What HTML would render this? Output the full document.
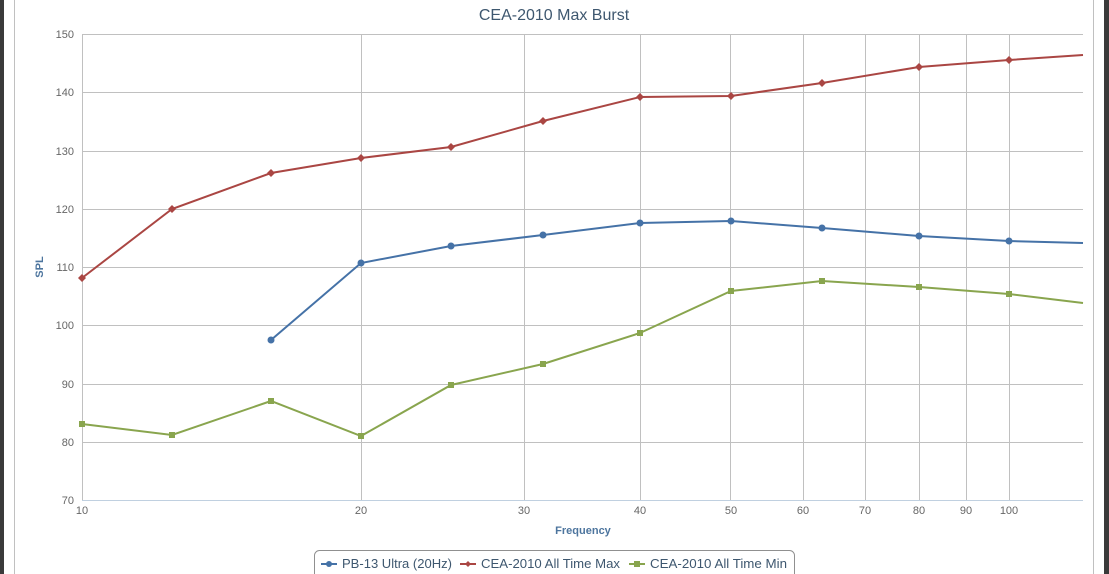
<!DOCTYPE html>
<html><head><meta charset="utf-8"><style>
html,body{margin:0;padding:0;background:#fff;}
svg{display:block;font-family:"Liberation Sans",sans-serif;}
</style></head><body>
<svg width="1109" height="574" viewBox="0 0 1109 574">
<rect x="0" y="0" width="4" height="574" fill="#3a3a3a"/>
<rect x="1104" y="0" width="5" height="574" fill="#3a3a3a"/>
<line x1="14.5" y1="0" x2="14.5" y2="574" stroke="#c0c0c0"/>
<line x1="1093.5" y1="0" x2="1093.5" y2="574" stroke="#c0c0c0"/>
<text x="554" y="20" text-anchor="middle" font-size="16" fill="#3e576f">CEA-2010 Max Burst</text>
<g stroke="#c0c0c0" stroke-width="1">
<line x1="82" y1="34.5" x2="1083" y2="34.5"/>
<line x1="82" y1="92.5" x2="1083" y2="92.5"/>
<line x1="82" y1="151.5" x2="1083" y2="151.5"/>
<line x1="82" y1="209.5" x2="1083" y2="209.5"/>
<line x1="82" y1="267.5" x2="1083" y2="267.5"/>
<line x1="82" y1="325.5" x2="1083" y2="325.5"/>
<line x1="82" y1="384.5" x2="1083" y2="384.5"/>
<line x1="82" y1="442.5" x2="1083" y2="442.5"/>
<line x1="82.5" y1="34" x2="82.5" y2="500"/>
<line x1="361.5" y1="34" x2="361.5" y2="500"/>
<line x1="524.5" y1="34" x2="524.5" y2="500"/>
<line x1="640.5" y1="34" x2="640.5" y2="500"/>
<line x1="730.5" y1="34" x2="730.5" y2="500"/>
<line x1="803.5" y1="34" x2="803.5" y2="500"/>
<line x1="865.5" y1="34" x2="865.5" y2="500"/>
<line x1="919.5" y1="34" x2="919.5" y2="500"/>
<line x1="966.5" y1="34" x2="966.5" y2="500"/>
<line x1="1009.5" y1="34" x2="1009.5" y2="500"/>
</g>
<line x1="82" y1="500.5" x2="1083" y2="500.5" stroke="#c0d0e0"/>
<g font-size="11" fill="#666" text-anchor="end">
<text x="74" y="38">150</text><text x="74" y="96">140</text><text x="74" y="155">130</text>
<text x="74" y="213">120</text><text x="74" y="271">110</text><text x="74" y="329">100</text>
<text x="74" y="388">90</text><text x="74" y="446">80</text><text x="74" y="504">70</text>
</g>
<g font-size="11" fill="#666" text-anchor="middle">
<text x="82" y="514">10</text><text x="361" y="514">20</text><text x="524" y="514">30</text>
<text x="640" y="514">40</text><text x="731" y="514">50</text><text x="803" y="514">60</text>
<text x="865" y="514">70</text><text x="919" y="514">80</text><text x="966" y="514">90</text>
<text x="1009" y="514">100</text>
</g>
<text x="583" y="534" text-anchor="middle" font-size="11" font-weight="bold" fill="#4d759e">Frequency</text>
<text x="43" y="267" text-anchor="middle" font-size="11" font-weight="bold" fill="#4d759e" transform="rotate(-90 43 267)">SPL</text>
<polyline fill="none" stroke="#aa4643" stroke-width="2" points="82,278 172,209 271,173 361,158 451,147 543,121 640,97 731,96 822,83 919,67 1009,60 1083,55"/>
<g fill="#aa4643">
<path d="M82,274l4,4l-4,4l-4-4z"/><path d="M172,205l4,4l-4,4l-4-4z"/><path d="M271,169l4,4l-4,4l-4-4z"/>
<path d="M361,154l4,4l-4,4l-4-4z"/><path d="M451,143l4,4l-4,4l-4-4z"/><path d="M543,117l4,4l-4,4l-4-4z"/>
<path d="M640,93l4,4l-4,4l-4-4z"/><path d="M731,92l4,4l-4,4l-4-4z"/><path d="M822,79l4,4l-4,4l-4-4z"/>
<path d="M919,63l4,4l-4,4l-4-4z"/><path d="M1009,56l4,4l-4,4l-4-4z"/>
</g>
<polyline fill="none" stroke="#4572a7" stroke-width="2" points="271,340 361,263 451,246 543,235 640,223 731,221 822,228 919,236 1009,241 1083,243"/>
<g fill="#4572a7">
<circle cx="271" cy="340" r="3.5"/><circle cx="361" cy="263" r="3.5"/><circle cx="451" cy="246" r="3.5"/>
<circle cx="543" cy="235" r="3.5"/><circle cx="640" cy="223" r="3.5"/><circle cx="731" cy="221" r="3.5"/>
<circle cx="822" cy="228" r="3.5"/><circle cx="919" cy="236" r="3.5"/><circle cx="1009" cy="241" r="3.5"/>
</g>
<polyline fill="none" stroke="#89a54e" stroke-width="2" points="82,424 172,435 271,401 361,436 451,385 543,364 640,333 731,291 822,281 919,287 1009,294 1083,303"/>
<g fill="#89a54e">
<rect x="79" y="421" width="6" height="6"/><rect x="169" y="432" width="6" height="6"/><rect x="268" y="398" width="6" height="6"/>
<rect x="358" y="433" width="6" height="6"/><rect x="448" y="382" width="6" height="6"/><rect x="540" y="361" width="6" height="6"/>
<rect x="637" y="330" width="6" height="6"/><rect x="728" y="288" width="6" height="6"/><rect x="819" y="278" width="6" height="6"/>
<rect x="916" y="284" width="6" height="6"/><rect x="1006" y="291" width="6" height="6"/>
</g>
<rect x="314.5" y="550.5" width="480" height="30" rx="5" fill="#fff" stroke="#909090"/>
<g font-size="13" fill="#3e576f">
<line x1="321" y1="564" x2="337" y2="564" stroke="#4572a7" stroke-width="2"/><circle cx="329" cy="564" r="3" fill="#4572a7"/>
<text x="342" y="568" textLength="110" lengthAdjust="spacingAndGlyphs">PB-13 Ultra (20Hz)</text>
<line x1="460" y1="564" x2="476" y2="564" stroke="#aa4643" stroke-width="2"/><path d="M468,561l3,3l-3,3l-3-3z" fill="#aa4643"/>
<text x="481" y="568" textLength="139" lengthAdjust="spacingAndGlyphs">CEA-2010 All Time Max</text>
<line x1="629" y1="564" x2="645" y2="564" stroke="#89a54e" stroke-width="2"/><rect x="634" y="561" width="6" height="6" fill="#89a54e"/>
<text x="650" y="568" textLength="137" lengthAdjust="spacingAndGlyphs">CEA-2010 All Time Min</text>
</g>
</svg>
</body></html>
